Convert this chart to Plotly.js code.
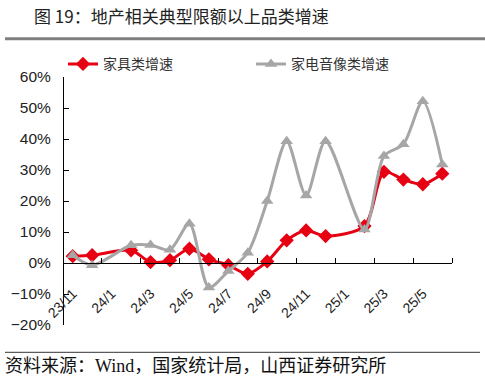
<!DOCTYPE html>
<html>
<head>
<meta charset="utf-8">
<script src="https://cdn.plot.ly/plotly-3.0.1.min.js"></script>
<style>html,body{margin:0;padding:0;background:#fff;}#chart{width:485px;height:379px;}</style>
</head>
<body>
<div id="chart"></div>
<script>
// Data (%)
var months = ['23/11','23/12','24/1','24/2','24/3','24/4','24/5','24/6','24/7','24/8','24/9','24/10','24/11','24/12','25/1','25/2','25/3','25/4','25/5','25/6'];
var furniture = [2.2, 2.5, null, 4.1, 0.3, 0.9, 4.6, 1.2, -0.7, -3.5, 0.5, 7.3, 10.5, 8.7, null, 11.9, 29.4, 26.9, 25.4, 28.8];
var appliance = [2.5, -0.7, null, 5.7, 5.8, 4.3, 12.7, -7.9, -2.6, 3.3, 20.0, 39.3, 21.8, 39.3, null, 10.8, 34.5, 38.3, 52.2, 31.8];
var seriesNames = ['家具类增速', '家电音像类增速'];
var titleText = '图 19：地产相关典型限额以上品类增速';
var sourceText = '资料来源：Wind，国家统计局，山西证券研究所';

var idx = months.map(function(_, i){ return i; });
var labelVals = idx.filter(function(i){ return i % 2 === 0; });
var labelText = labelVals.map(function(i){ return months[i]; });
var boundaryVals = labelVals.map(function(i){ return i + 1.5; });

var traces = [
  {x: idx, y: furniture, name: seriesNames[0], type: 'scatter', mode: 'lines+markers',
   connectgaps: true,
   line: {color: '#E60012', width: 3, shape: 'spline', smoothing: 0.8},
   marker: {symbol: 'diamond', size: 11, color: '#E60012'}},
  {x: idx, y: appliance, name: seriesNames[1], type: 'scatter', mode: 'lines+markers',
   connectgaps: true,
   line: {color: '#A6A6A6', width: 3, shape: 'spline', smoothing: 0.8},
   marker: {symbol: 'triangle-up', size: 11, color: '#A6A6A6'}}
];

var PL = 63, PT = 76.7, PW = 389, PH = 248;
function px(x){ return (x - PL) / PW; }
function py(y){ return (PT + PH - y) / PH; }

var layout = {
  width: 485, height: 379,
  margin: {l: 63, r: 33, t: 77, b: 54, pad: 0},
  paper_bgcolor: '#fff', plot_bgcolor: '#fff',
  font: {family: 'Liberation Sans, Arial, sans-serif', size: 15, color: '#222'},
  showlegend: true,
  legend: {orientation: 'h', x: px(63), xanchor: 'left', y: py(64), yanchor: 'middle',
           entrywidth: 143, entrywidthmode: 'pixels',
           font: {family: 'Noto Sans CJK SC, sans-serif', size: 14, color: '#333'},
           bgcolor: 'rgba(0,0,0,0)'},
  xaxis: {range: [-0.5, 19.5], anchor: 'free', position: 0.25,
          showline: true, linecolor: '#000', linewidth: 1,
          showgrid: false, zeroline: false,
          tickmode: 'array', tickvals: labelVals, ticktext: labelText,
          ticks: '', tickangle: -45, ticklabelstandoff: 16,
          tickfont: {family: 'Liberation Sans, Arial, sans-serif', size: 14, color: '#222'},
          minor: {tickmode: 'array', tickvals: boundaryVals, ticks: 'inside', ticklen: 5,
                  tickcolor: '#000', tickwidth: 1, showgrid: false},
          automargin: false, fixedrange: true},
  yaxis: {range: [-20, 60], dtick: 10, tick0: 0, ticksuffix: '%',
          anchor: 'free', position: 0,
          showline: true, linecolor: '#000', linewidth: 1,
          showgrid: false, zeroline: false,
          ticks: 'inside', ticklen: 5, tickcolor: '#000',
          ticklabelstandoff: 9,
          tickfont: {family: 'Liberation Sans, Arial, sans-serif', size: 15.5, color: '#222'},
          automargin: false, fixedrange: true},
  shapes: [
    {type: 'line', xref: 'paper', yref: 'paper', x0: px(5), x1: px(485),
     y0: py(38.5), y1: py(38.5), line: {color: '#808080', width: 3}},
    {type: 'line', xref: 'paper', yref: 'paper', x0: px(5), x1: px(480),
     y0: py(352), y1: py(352), line: {color: '#333', width: 1}}
  ],
  annotations: [
    {text: titleText, xref: 'paper', yref: 'paper', x: px(181.5), xanchor: 'center',
     y: py(15), yanchor: 'middle', showarrow: false,
     font: {family: 'Noto Sans CJK SC, sans-serif', size: 17, color: '#222'}},
    {text: sourceText, xref: 'paper', yref: 'paper', x: px(3), xanchor: 'left', align: 'left',
     y: py(365.5), yanchor: 'middle', showarrow: false,
     font: {family: 'Liberation Serif, Noto Sans CJK SC, serif', size: 18, color: '#111'}}
  ]
};

Plotly.newPlot('chart', traces, layout, {displayModeBar: false, staticPlot: true});
</script>
</body>
</html>
